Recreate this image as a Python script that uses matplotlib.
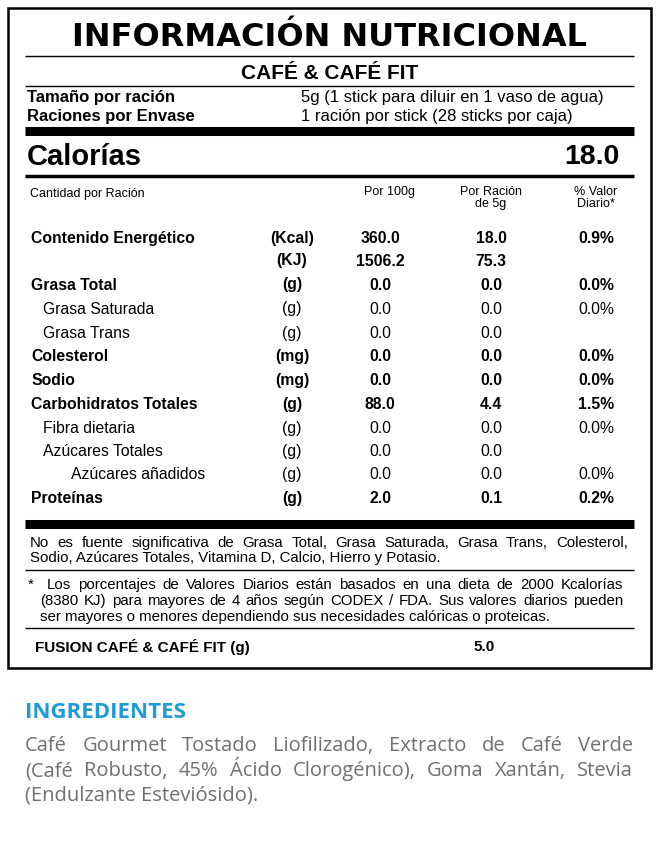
import matplotlib
matplotlib.use("Agg")
import matplotlib.pyplot as plt

W, H = 659, 841
fig = plt.figure(figsize=(W / 100, H / 100), dpi=100)
ax = fig.add_axes([0, 0, 1, 1])
ax.set_xlim(0, W)
ax.set_ylim(H, 0)
ax.axis("off")

FONT = "Liberation Sans"
BLUE = "#1f9ad6"
GREY = "#707070"

nutrients = ["Contenido Energético", "", "Grasa Total", "Grasa Saturada", "Grasa Trans",
             "Colesterol", "Sodio", "Carbohidratos Totales", "Fibra dietaria",
             "Azúcares Totales", "Azúcares añadidos", "Proteínas"]
units = ["(Kcal)", "(KJ)", "(g)", "(g)", "(g)", "(mg)", "(mg)", "(g)", "(g)", "(g)", "(g)", "(g)"]
per100 = ["360.0", "1506.2", "0.0", "0.0", "0.0", "0.0", "0.0", "88.0", "0.0", "0.0", "0.0", "2.0"]
perserv = ["18.0", "75.3", "0.0", "0.0", "0.0", "0.0", "0.0", "4.4", "0.0", "0.0", "0.0", "0.1"]
daily = ["0.9%", "", "0.0%", "0.0%", "", "0.0%", "0.0%", "1.5%", "0.0%", "", "0.0%", "0.2%"]
bold = [1, 1, 1, 0, 0, 1, 1, 1, 0, 0, 0, 1]
indent = [0, 0, 0, 1, 1, 0, 0, 0, 1, 1, 2, 0]
row_y = [238, 261, 285, 309, 333, 356, 380, 404, 428, 451, 474, 498]

fig.canvas.draw()
renderer = fig.canvas.get_renderer()


def txt(x, y, s, fs, ha="left", w="normal", color="black", family=FONT):
    return ax.text(x, y, s, ha=ha, va="center", fontsize=fs, weight=w, color=color, family=family)


def justify(x0, x1, y, line, fs, color="black", family=FONT, last=False):
    words = line.split(" ")
    if last or len(words) == 1:
        txt(x0, y, line, fs, color=color, family=family)
        return
    widths = []
    for wd in words:
        t = txt(0, -100, wd, fs, color=color, family=family)
        widths.append(t.get_window_extent(renderer).width)
        t.remove()
    gap = ((x1 - x0) - sum(widths)) / (len(words) - 1)
    x = x0
    for wd, wi in zip(words, widths):
        txt(x, y, wd, fs, color=color, family=family)
        x += wi + gap


def hline(y, lw, x0=25, x1=634):
    ax.plot([x0, x1], [y, y], color="black", lw=lw, solid_capstyle="butt")


# outer box
ax.add_patch(plt.Rectangle((8, 8), 643, 660, fill=False, lw=1.8, ec="black"))

txt(W / 2, 37, "INFORMACIÓN NUTRICIONAL", 23, ha="center", w="heavy", family="DejaVu Sans")
hline(56, 1.0)
txt(W / 2, 73, "CAFÉ & CAFÉ FIT", 15, ha="center", w="bold")
hline(86, 1.0)
txt(27, 97, "Tamaño por ración", 12, w="bold")
txt(27, 116, "Raciones por Envase", 12, w="bold")
txt(301, 97, "5g (1 stick para diluir en 1 vaso de agua)", 12)
txt(301, 116, "1 ración por stick (28 sticks por caja)", 12)
hline(131, 6.5)
txt(27, 157, "Calorías", 21, w="bold")
txt(620, 157, "18.0", 20.5, ha="right", w="bold")
hline(176, 2.5)

txt(30, 194, "Cantidad por Ración", 9)
ax.text(390, 186, "Por 100g", ha="center", va="top", fontsize=9, family=FONT)
ax.text(491, 186, "Por Ración\nde 5g", ha="center", va="top", fontsize=9, family=FONT, linespacing=0.95)
ax.text(596, 186, "% Valor\nDiario*", ha="center", va="top", fontsize=9, family=FONT, linespacing=0.95)

for n, u, a, b, d, bf, ind, y in zip(nutrients, units, per100, perserv, daily, bold, indent, row_y):
    wt = "bold" if bf and ind == 0 else "normal"
    txt(31 + ind * 12 + (ind == 2) * 16, y, n, 11.3, w=wt)
    txt(292, y, u, 11.3, ha="center", w=wt)
    txt(380, y, a, 11.3, ha="center", w=wt)
    txt(491, y, b, 11.3, ha="center", w=wt)
    txt(596, y, d, 11.3, ha="center", w=wt)

hline(524, 6.5)
justify(30, 628, 543, "No es fuente significativa de Grasa Total, Grasa Saturada, Grasa Trans, Colesterol,", 10.8)
justify(30, 628, 558, "Sodio, Azúcares Totales, Vitamina D, Calcio, Hierro y Potasio.", 10.8, last=True)
hline(570, 1.0)
justify(28, 623, 585, "*  Los porcentajes de Valores Diarios están basados en una dieta de 2000 Kcalorías", 10.8)
justify(40, 623, 601, "(8380 KJ) para mayores de 4 años según CODEX / FDA. Sus valores diarios pueden", 10.8)
justify(40, 623, 617, "ser mayores o menores dependiendo sus necesidades calóricas o proteicas.", 10.8, last=True)
hline(628, 1.0)
txt(35, 647, "FUSION CAFÉ & CAFÉ FIT (g)", 11, w="bold")
txt(484, 647, "5.0", 11, ha="center", w="bold")

txt(25, 713, "INGREDIENTES", 16, w="bold", color=BLUE, family="Open Sans")
ing = ["Café Gourmet Tostado Liofilizado, Extracto de Café Verde",
       "(Café Robusto, 45% Ácido Clorogénico), Goma Xantán, Stevia",
       "(Endulzante Esteviósido)."]
for i, line in enumerate(ing):
    justify(25, 633, 746 + 25 * i, line, 14.5, color=GREY, family="Open Sans", last=(i == len(ing) - 1))

fig.savefig("out.png", dpi=100, facecolor="white")
